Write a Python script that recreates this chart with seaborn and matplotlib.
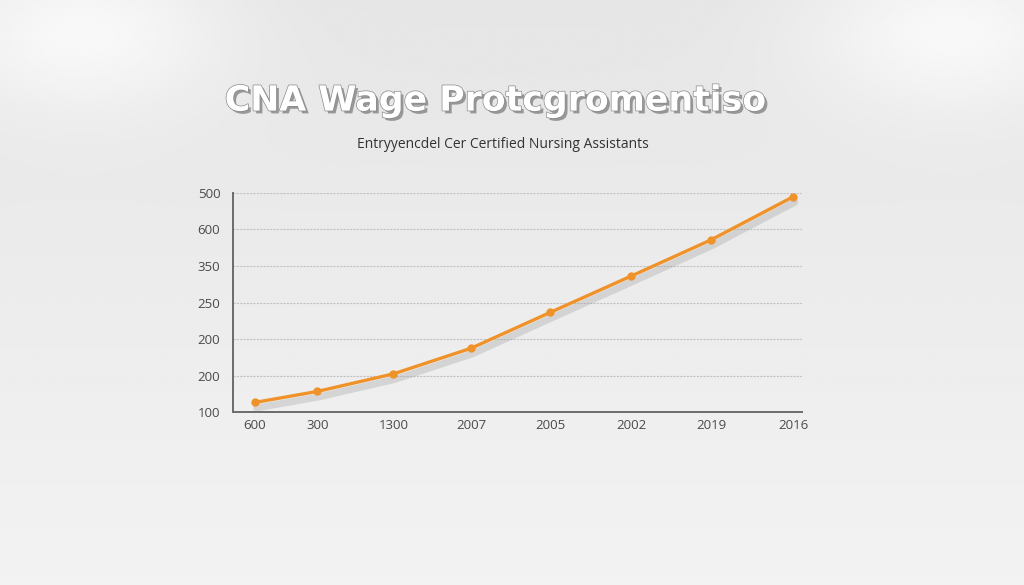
import numpy as np
import pandas as pd
import matplotlib
matplotlib.use("Agg")
import matplotlib.pyplot as plt
import matplotlib.patheffects as pe
import seaborn as sns

# chart data (tick labels are as printed in the reference)
x_labels = ['600', '300', '1300', '2007', '2005', '2002', '2019', '2016']
x_pos = [0.0, 0.81, 1.80, 2.81, 3.84, 4.89, 5.93, 7.0]
wage = [0.27, 0.57, 1.05, 1.75, 2.73, 3.72, 4.71, 5.89]
y_labels = ['100', '200', '200', '250', '350', '600', '500']

title = 'CNA Wage Protcgromentiso'
subtitle = 'Entryyencdel Cer Certified Nursing Assistants'

sns.set_theme(style='white')
plt.rcParams['font.family'] = ['Open Sans', 'DejaVu Sans']

df = pd.DataFrame({'x': x_pos, 'wage': wage})

fig = plt.figure(figsize=(10.24, 5.85), dpi=100)

# soft grey backdrop with light spots at the top corners
bg = fig.add_axes([0, 0, 1, 1], zorder=-10)
yy, xx = np.mgrid[0:1:300j, 0:1:520j]
base = 0.900 + 0.05 * yy
spot_l = np.exp(-(((xx - 0.08) / 0.14) ** 2 + ((yy - 0.05) / 0.14) ** 2))
spot_r = np.exp(-(((xx - 0.93) / 0.14) ** 2 + ((yy - 0.05) / 0.14) ** 2))
img = np.clip(base + 0.07 * (spot_l + spot_r), 0, 1)
bg.imshow(img, cmap='gray', vmin=0, vmax=1, aspect='auto', extent=[0, 1, 1, 0])
bg.set_xlim(0, 1)
bg.set_ylim(1, 0)
bg.axis('off')

ax = fig.add_axes([0.2273, 0.2952, 0.5556, 0.3754])
ax.patch.set_alpha(0)

orange = '#f0922a'
sns.lineplot(data=df, x='x', y='wage', ax=ax, color=orange, linewidth=2.4, zorder=3,
             path_effects=[pe.SimpleLineShadow(offset=(1, -4), shadow_color='#9a9a9a',
                                               alpha=0.3, linewidth=5),
                           pe.Normal()])
sns.scatterplot(data=df, x='x', y='wage', ax=ax, color=orange, s=36,
                linewidth=0, zorder=4)

ax.set_xlim(-0.29, 7.11)
ax.set_ylim(0, 6)
ax.set_xticks(x_pos)
ax.set_xticklabels(x_labels)
ax.set_yticks(range(len(y_labels)))
ax.set_yticklabels(y_labels)
ax.set_xlabel('')
ax.set_ylabel('')
ax.tick_params(axis='both', length=0, labelsize=9.5, labelcolor='#4a4a4a')
ax.tick_params(axis='x', pad=5)
ax.tick_params(axis='y', pad=9)

ax.yaxis.grid(True, color='#c2c2c2', linestyle=(0, (2, 1)), linewidth=0.8)
ax.set_axisbelow(True)
for side in ['top', 'right']:
    ax.spines[side].set_visible(False)
for side in ['left', 'bottom']:
    ax.spines[side].set_color('#6b6b6b')
    ax.spines[side].set_linewidth(1.4)

fig.text(0.484, 0.828, title, ha='center', va='center', fontsize=25,
         fontweight='bold', color='white', family=['DejaVu Sans'],
         path_effects=[pe.withSimplePatchShadow(offset=(2, -2), shadow_rgbFace='#555555',
                                                alpha=0.55),
                       pe.Stroke(linewidth=1.0, foreground='#8a8a8a'), pe.Normal()])
fig.text(0.491, 0.753, subtitle, ha='center', va='center', fontsize=10,
         color='#333333')

fig.savefig('out.png', dpi=100)
